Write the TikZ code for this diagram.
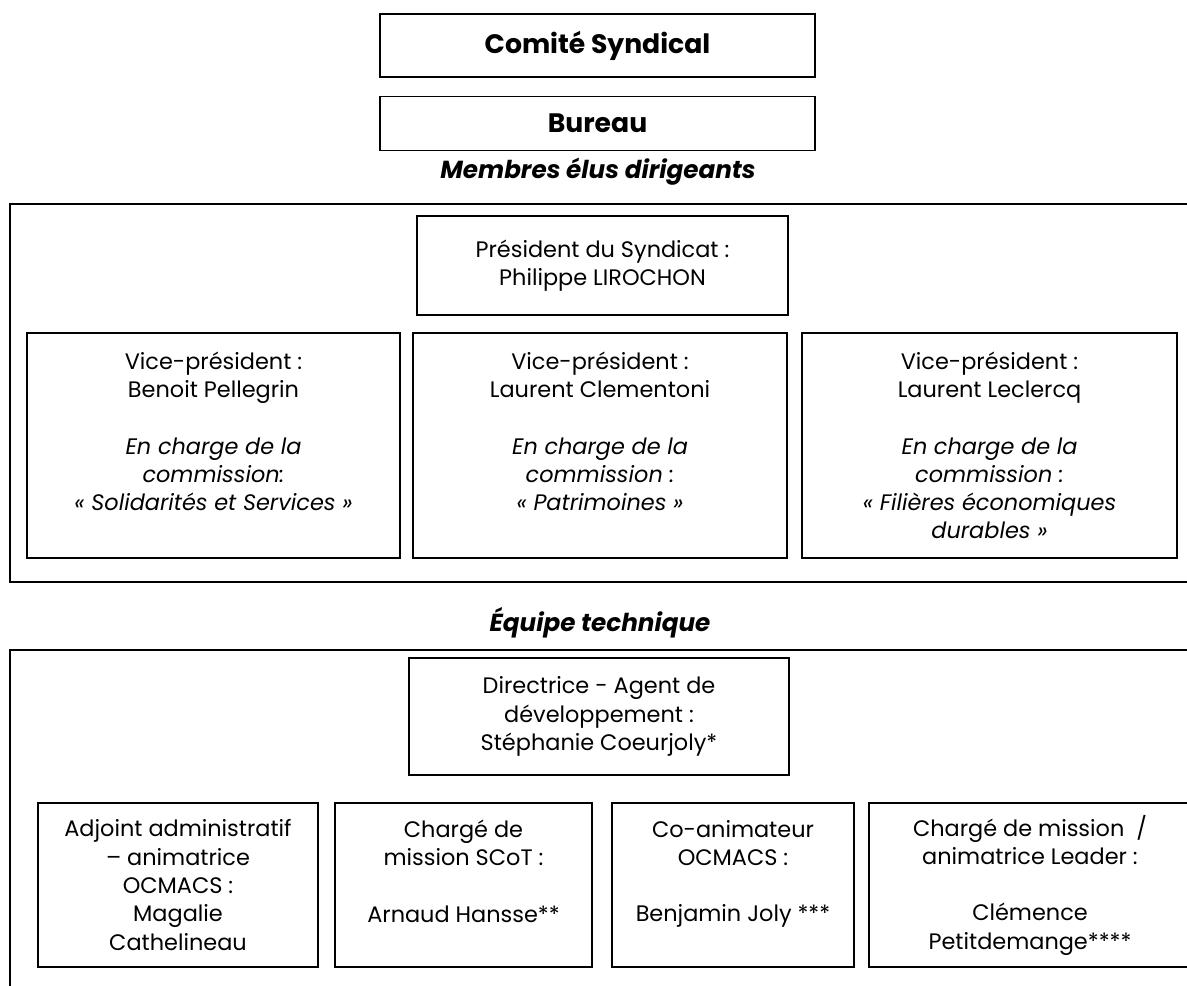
\documentclass[tikz,border=0pt]{standalone}
\usepackage{fontspec}
\setmainfont{Poppins}
\usetikzlibrary{positioning}
\begin{document}
\begin{tikzpicture}[
  x=0.75pt, y=-0.75pt,
  box/.style={rectangle, draw, line width=1.3pt, align=center, inner sep=0pt, font=\fontsize{16.8}{21.2}\selectfont},
  titlebox/.style={rectangle, draw, line width=1.3pt, minimum width=326pt, font=\bfseries\fontsize{20}{23}\selectfont},
  heading/.style={font=\bfseries\itshape\fontsize{18.5}{21}\selectfont},
  frame/.style={draw, line width=1.3pt}
]
\clip (0,0) rectangle (1187,985);

% instances
\node[titlebox, minimum height=47pt] (comite) at (597.5,45.5) {Comité Syndical};
\node[titlebox, minimum height=40.5pt, below=13.5pt of comite] (bureau) {Bureau};

% elus
\node[heading] (membres) at (598,172) {Membres élus dirigeants};
\draw[frame] (10,204) rectangle (1200,582);
\node[box, minimum width=278pt, minimum height=74pt] (president) at (602.5,265.5)
  {Président du Syndicat :\\Philippe LIROCHON};
\node[box, minimum width=280pt, minimum height=169pt] (vpa) at (213.5,445.5)
  {Vice-président :\\Benoit Pellegrin\\\mbox{}\\\textit{En charge de la}\\\textit{commission:}\\\textit{« Solidarités et Services »}\\\mbox{}};
\node[box, minimum width=280pt, minimum height=169pt] (vpb) at (600,445.5)
  {Vice-président :\\Laurent Clementoni\\\mbox{}\\\textit{En charge de la}\\\textit{commission :}\\\textit{« Patrimoines »}\\\mbox{}};
\node[box, minimum width=281pt, minimum height=169pt] (vpc) at (989.5,445.5)
  {Vice-président :\\Laurent Leclercq\\\mbox{}\\\textit{En charge de la}\\\textit{commission :}\\\textit{« Filières économiques}\\\textit{durables »}};

% equipe
\node[heading] (equipe) at (600,623) {Équipe technique};
\draw[frame] (10,650) rectangle (1200,1000);
\node[box, minimum width=285pt, minimum height=88pt] (directrice) at (599,716.5)
  {Directrice - Agent de\\développement :\\Stéphanie Coeurjoly*};
\node[box, minimum width=210pt, minimum height=123pt] (adjoint) at (178,885)
  {Adjoint administratif\\– animatrice\\OCMACS :\\Magalie\\Cathelineau};
\node[box, minimum width=193pt, minimum height=123pt] (scot) at (463.5,885)
  {Chargé de\\mission SCoT :\\\mbox{}\\Arnaud Hansse**\\\mbox{}};
\node[box, minimum width=182pt, minimum height=123pt] (coanim) at (733,885)
  {Co-animateur\\OCMACS :\\\mbox{}\\Benjamin Joly ***\\\mbox{}};
\node[box, minimum width=241.5pt, minimum height=123pt] (leader) at (1030,885)
  {Chargé de mission~~/\\animatrice Leader :\\\mbox{}\\Clémence\\Petitdemange****};
\end{tikzpicture}
\end{document}
